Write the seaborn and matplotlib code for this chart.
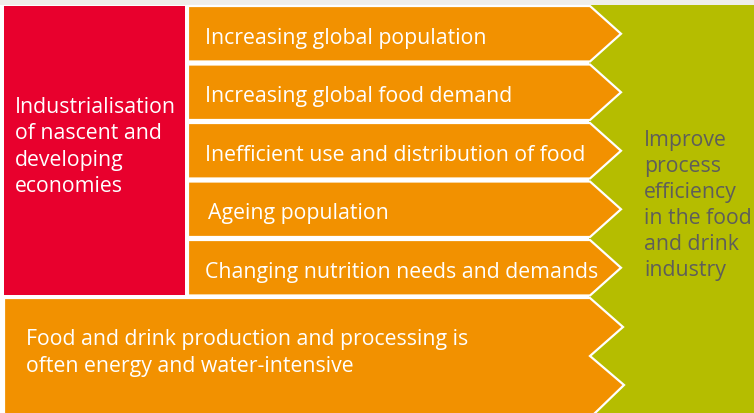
import matplotlib
matplotlib.use("Agg")
import matplotlib.pyplot as plt
import seaborn as sns
from matplotlib.patches import Polygon, Rectangle

# text content of the diagram
drivers = [
    "Increasing global population",
    "Increasing global food demand",
    "Inefficient use and distribution of food",
    "Ageing population",
    "Changing nutrition needs and demands",
]
root_cause = ["Industrialisation", "of nascent and", "developing", "economies"]
production = ["Food and drink production and processing is",
              "often energy and water-intensive"]
outcome = ["Improve", "process", "efficiency", "in the food", "and drink", "industry"]

palette = sns.color_palette(["#e8002d", "#f29100", "#b5bd00"])
RED, ORANGE, GREEN = palette
GREY_TEXT = "#5e5e5a"

sns.set_theme(style="white")
plt.rcParams["font.family"] = ["Open Sans", "DejaVu Sans"]
FS = 15.3

W, H = 754, 414
fig = plt.figure(figsize=(W / 100, H / 100), dpi=100)
ax = fig.add_axes([0, 0, 1, 1])
ax.set_xlim(0, W)
ax.set_ylim(H, 0)
ax.axis("off")

#background strip at top
ax.add_patch(Rectangle((0, 0), W, 6, color="#efeeea", lw=0))

#outcome block (green)
ax.add_patch(Rectangle((589, 6), W - 589, H, color=GREEN, lw=0))

#root cause block (red)
ax.add_patch(Rectangle((4, 7), 181, 289, color=RED, lw=0))

#driver arrows
top, row_h, gap = 7, 55.5, 3
x0, x1, tip = 188, 590, 621
for i, label in enumerate(drivers):
    y0 = top + i * (row_h + gap)
    y1 = y0 + row_h
    ym = (y0 + y1) / 2
    pts = [(x0, y0), (x1, y0), (tip, ym), (x1, y1), (x0, y1)]
    ax.add_patch(Polygon(pts, closed=True, facecolor=ORANGE,
                         edgecolor="white", lw=1.6, joinstyle="miter"))
    dx = 3 if label.startswith("Ageing") else 0
    ax.text(x0 + 17 + dx, ym + 9, label, color="white", fontsize=FS,
            va="baseline", ha="left")

#bottom production arrow with two tips
by = 299
pts = [(4, by), (590, by), (623, 328), (590, 357), (624, 386),
       (593, 416), (4, 416)]
ax.add_patch(Polygon(pts, closed=True, facecolor=ORANGE,
                     edgecolor="white", lw=1.6, joinstyle="miter"))
for j, line in enumerate(production):
    ax.text(26, 345 + j * 27, line, color="white", fontsize=FS,
            va="baseline", ha="left")

#root cause text
for j, line in enumerate(root_cause):
    ax.text(15, 113 + j * 26.5, line, color="white", fontsize=FS,
            va="baseline", ha="left")

#outcome text
for j, line in enumerate(outcome):
    ax.text(644, 146 + j * 26, line, color=GREY_TEXT, fontsize=FS,
            va="baseline", ha="left")

plt.savefig("out.png", dpi=100)
plt.close()
